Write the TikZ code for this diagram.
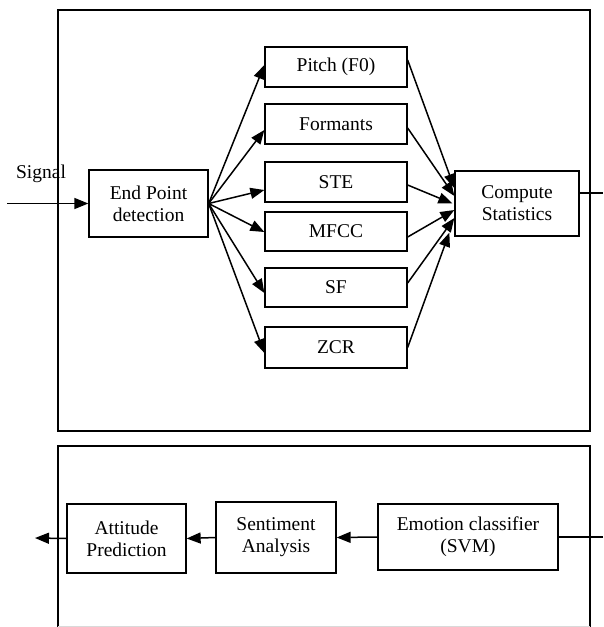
\documentclass[tikz,border=0pt]{standalone}
\usepackage{fontspec}
\setmainfont{Liberation Serif}
\usetikzlibrary{arrows.meta,calc}
\begin{document}
\begin{tikzpicture}[x=1pt,y=-1pt,
  box/.style={draw,line width=1.3pt,align=center,inner sep=0pt,font=\fontsize{19.5}{22}\selectfont},
  arr/.style={line width=1.5pt,-{Triangle[length=14pt,width=11pt]}},
  frame/.style={line width=1.3pt}]
\useasboundingbox (0,0) rectangle (603,627);
% frames
\draw[frame] (58,10) rectangle (590,431);
\draw[frame] (58,627) -- (58,446) -- (590,446) -- (590,627);
\draw[line width=0.6pt,black!15] (58,626) -- (590,626);
% top nodes
\node[box,minimum width=119pt,minimum height=67pt] (ep) at (148.5,203.5) {End Point\\detection};
\node[box,minimum width=142pt,minimum height=40pt] (pitch) at (336,67) {Pitch (F0)};
\node[box,minimum width=142pt,minimum height=40pt] (form) at (336,124) {Formants};
\node[box,minimum width=142pt,minimum height=40pt] (ste) at (336,182) {STE};
\node[box,minimum width=142pt,minimum height=39pt] (mfcc) at (336,231.5) {MFCC};
\node[box,minimum width=142pt,minimum height=39pt] (sf) at (336,287.5) {SF};
\node[box,minimum width=142pt,minimum height=41pt] (zcr) at (336,347.5) {ZCR};
\node[box,minimum width=124pt,minimum height=65pt] (cs) at (517,203.5) {Compute\\Statistics};
\node[font=\fontsize{19.5}{22}\selectfont,inner sep=0pt] (sig) at (41,174) {Signal};
\coordinate (sigin) at (7,203.5);
\coordinate (csout) at (603,193);
% bottom nodes
\node[box,minimum width=119pt,minimum height=69pt] (att) at (126.5,538.5) {Attitude\\Prediction};
\node[box,minimum width=120pt,minimum height=71pt] (sent) at (276,537.5) {Sentiment\\Analysis};
\node[box,minimum width=180pt,minimum height=66pt] (emo) at (468,537) {Emotion classifier\\(SVM)};
\coordinate (out) at (35,538);
\coordinate (emoin) at (603,537);
% connectors top
\draw[arr] (sigin) -- (ep.west);
\draw[line width=1.3pt] (cs.east |- csout) -- (csout);
\draw[arr] (ep.east) -- ($(pitch.west)+(0,-2)$);
\draw[arr] (ep.east) -- ($(form.west)+(0,6)$);
\draw[arr] (ep.east) -- ($(ste.west)+(0,8)$);
\draw[arr] (ep.east) -- ($(mfcc.west)+(0,0.5)$);
\draw[arr] (ep.east) -- ($(sf.west)+(0,5.5)$);
\draw[arr] (ep.east) -- ($(zcr.west)+(0,5.5)$);
\draw[arr] ($(pitch.east)+(0,-7)$) -- ($(cs.west)+(0,-15.5)$);
\draw[arr] ($(form.east)+(0,4)$) -- ($(cs.west)+(0,-7.5)$);
\draw[arr] ($(ste.east)+(0,3)$) -- ($(cs.west)+(-2,0)$);
\draw[arr] ($(mfcc.east)+(0,5.5)$) -- ($(cs.west)+(0,6.5)$);
\draw[arr] ($(sf.east)+(0,-4.5)$) -- ($(cs.west)+(0,14.5)$);
\draw[arr] (zcr.east) -- ($(cs.south west)+(-5,-4)$);
% connectors bottom
\draw[line width=1.3pt] (emoin) -- (emo.east);
\draw[arr] (emo.west) -- (sent.east);
\draw[arr] (sent.west) -- (att.east);
\draw[arr] (att.west) -- (out);
\end{tikzpicture}
\end{document}
